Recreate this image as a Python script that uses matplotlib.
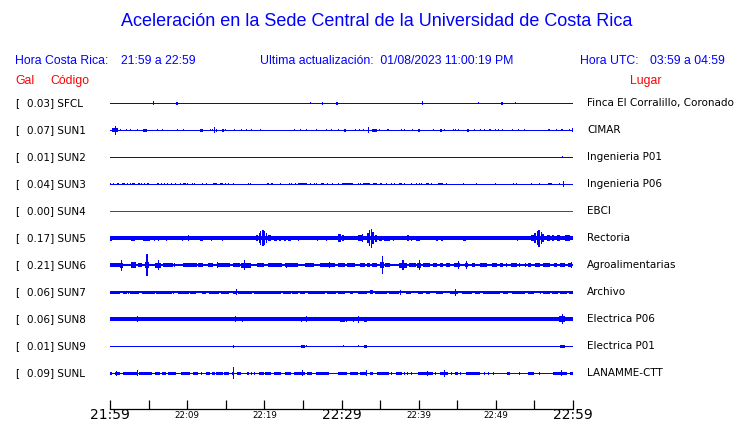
import matplotlib
matplotlib.use('Agg')
import matplotlib.pyplot as plt

# station data, top to bottom
codes = ['SFCL', 'SUN1', 'SUN2', 'SUN3', 'SUN4', 'SUN5', 'SUN6', 'SUN7', 'SUN8', 'SUN9', 'SUNL']
gal = [0.03, 0.07, 0.01, 0.04, 0.00, 0.17, 0.21, 0.06, 0.06, 0.01, 0.09]
places = ['Finca El Corralillo, Coronado', 'CIMAR', 'Ingenieria P01', 'Ingenieria P06', 'EBCI',
          'Rectoria', 'Agroalimentarias', 'Archivo', 'Electrica P06', 'Electrica P01', 'LANAMME-CTT']
base_px = [1, 1, 1, 1, 1, 3.5, 2, 1.5, 4, 1, 1]   # trace thickness (pixels)

tick_min = [0, 5, 10, 15, 20, 25, 30, 35, 40, 45, 50, 55, 60]
tick_txt = ['21:59', '', '22:09', '', '22:19', '', '22:29', '', '22:39', '', '22:49', '', '22:59']

# bursts on each trace: (start minute, end minute, half height in pixels)
ev_sfcl = [(5.6, 5.6, 2), (8.6, 8.8, 1.5), (26.0, 26.0, 1), (27.6, 27.6, 1.5), (29.3, 29.5, 1.5),
           (40.5, 40.5, 2), (47.7, 47.7, 1), (50.7, 50.9, 1.5), (52.6, 52.6, 1)]
ev_sun1 = [(0.3, 1.0, 2), (0.65, 0.65, 4.5), (1.4, 1.4, 1.3), (2.2, 2.2, 1.3), (2.7, 2.7, 1.3), (3.5, 3.5, 1.3),
           (4.3, 4.8, 1.5), (6.1, 6.1, 1.3), (6.8, 6.8, 1.3), (8.8, 8.8, 1.3), (9.5, 9.5, 1), (11.7, 12.1, 1.5),
           (13.0, 13.0, 1.3), (13.3, 13.3, 1.3), (13.5, 13.5, 3), (13.8, 13.8, 1.5), (14.5, 14.8, 1.5),
           (15.0, 15.0, 1.3), (16.1, 16.1, 1.3), (17.1, 17.1, 1), (17.7, 17.7, 1.3), (18.4, 18.4, 1.3),
           (19.5, 19.5, 1.3), (23.8, 24.0, 1.3), (24.7, 24.7, 1.3), (25.5, 25.5, 1.3), (26.8, 26.8, 1.3),
           (28.1, 28.1, 1.3), (28.7, 28.7, 1.3), (29.6, 29.6, 1.3), (30.3, 30.6, 1.5), (31.8, 31.8, 1.3),
           (32.3, 32.3, 1), (32.8, 32.8, 1.3), (33.5, 33.5, 3), (34.0, 34.6, 1.5), (34.9, 34.9, 1.3),
           (35.9, 36.2, 1.3), (37.8, 37.8, 1.3), (38.2, 38.2, 1.3), (39.2, 39.2, 1.3), (39.9, 40.2, 1.5),
           (41.9, 41.9, 1.3), (42.8, 43.0, 1.5), (43.3, 43.3, 1.3), (44.5, 44.5, 1.3), (44.8, 44.8, 1.3),
           (45.2, 45.2, 1.3), (46.2, 46.5, 1.5), (47.2, 47.2, 1.3), (48.0, 48.0, 1.3), (48.5, 48.5, 1.3),
           (49.1, 49.4, 1.3), (50.0, 50.0, 1.3), (50.4, 50.4, 1.3), (50.8, 50.8, 1.3), (52.2, 52.2, 1),
           (52.9, 52.9, 1), (53.7, 53.7, 1.3), (56.8, 57.0, 1.3), (57.9, 57.9, 1.3), (58.4, 58.7, 1.3),
           (59.5, 59.5, 1.3), (59.9, 59.9, 2)]
ev_sun2 = [(58.7, 58.7, 1)]
ev_sun3 = [(0.1, 0.1, 1), (0.4, 0.4, 1.2), (0.9, 1.2, 1.2), (1.5, 1.9, 1.2), (2.3, 2.3, 1), (2.6, 2.6, 1.2),
           (2.9, 3.2, 1.2), (3.6, 3.9, 1.2), (4.1, 4.1, 1.2), (4.5, 4.5, 1.2), (4.8, 5.1, 1.2), (6.1, 6.4, 1.2),
           (6.7, 6.7, 1.2), (7.0, 7.0, 1), (7.5, 7.5, 1.2), (8.0, 8.0, 1), (8.5, 8.5, 1.2), (9.1, 9.1, 1),
           (9.5, 9.8, 1.2), (10.1, 10.1, 1), (10.7, 10.7, 1.2), (11.0, 11.0, 1), (12.0, 12.0, 1), (12.5, 12.5, 1),
           (13.4, 13.9, 1.2), (14.2, 14.6, 1.2), (15.0, 15.0, 1), (15.4, 15.4, 1), (16.0, 16.0, 1.2),
           (17.9, 17.9, 1), (18.2, 18.2, 1.2), (20.3, 20.6, 1.2), (20.9, 21.1, 1.2), (22.1, 22.1, 1),
           (23.3, 23.3, 1), (23.5, 23.5, 1), (24.1, 24.1, 1.2), (24.4, 25.5, 1.3), (26.0, 26.0, 1.2),
           (26.5, 26.5, 1), (26.8, 26.8, 1.2), (27.4, 27.7, 1.2), (28.2, 28.2, 1), (28.8, 28.8, 1.2),
           (29.6, 29.6, 1), (30.0, 31.5, 1.3), (32.2, 32.2, 1.2), (32.5, 32.5, 1.2), (32.8, 33.7, 1.3),
           (34.1, 34.6, 1.3), (35.0, 35.3, 1.3), (35.8, 35.8, 1.2), (36.5, 36.5, 1), (36.9, 36.9, 1.2),
           (37.5, 37.9, 1.3), (38.2, 38.2, 1), (39.1, 39.1, 1.2), (39.7, 39.7, 1.2), (40.1, 40.1, 1),
           (40.4, 40.4, 1), (41.0, 41.4, 1.3), (41.7, 41.7, 1), (42.5, 43.2, 1.3), (43.6, 43.6, 1.2),
           (45.8, 45.8, 1), (47.5, 47.5, 1.2), (49.9, 49.9, 1), (52.3, 52.3, 1.2), (52.7, 52.7, 1.2),
           (54.6, 54.6, 1.2), (55.7, 55.7, 1), (56.8, 57.3, 1.3), (58.3, 58.3, 1.2), (58.8, 58.8, 3)]
ev_sun4 = []
ev_sun5 = [(0.0, 0.3, 2.5), (2.7, 3.2, 2.5), (4.3, 5.2, 2.5), (5.8, 5.8, 2.5), (6.3, 6.3, 2.5), (7.3, 7.3, 2.5),
           (9.3, 9.5, 2.5), (10.2, 10.2, 3), (11.6, 12.1, 2.5), (13.1, 13.1, 2.5), (14.6, 14.6, 2.5),
           (15.4, 15.4, 2.3), (18.9, 19.2, 3), (19.3, 19.4, 5), (19.5, 19.6, 7), (19.7, 19.9, 8), (20.0, 20.1, 7),
           (20.2, 20.4, 5), (20.5, 20.8, 3), (21.2, 21.6, 2.5), (21.9, 22.2, 2.5), (22.5, 22.8, 2.5),
           (23.1, 23.5, 2.5), (24.4, 24.4, 2.5), (25.3, 25.3, 2.3), (26.9, 26.9, 2.5), (28.1, 28.1, 2.5),
           (28.8, 28.8, 2.3), (29.6, 29.9, 4), (30.0, 30.3, 3), (32.2, 32.8, 3), (32.7, 32.7, 4), (33.3, 33.5, 5),
           (33.6, 33.7, 8), (33.8, 33.9, 9.5), (34.0, 34.2, 6), (34.3, 34.6, 3.5), (34.8, 35.2, 2.5),
           (35.5, 36.3, 2.5), (36.7, 36.7, 2.5), (37.8, 37.8, 2.3), (38.5, 38.7, 3), (39.1, 39.1, 2.5),
           (39.7, 40.2, 2.5), (42.3, 42.5, 2.5), (42.9, 43.2, 2.5), (45.8, 46.1, 2.5), (46.4, 46.4, 2.3),
           (47.5, 47.5, 2.3), (52.8, 52.8, 2.5), (53.8, 53.8, 2.3), (54.6, 54.9, 3), (55.0, 55.2, 5),
           (55.3, 55.4, 7), (55.5, 55.7, 8.5), (55.8, 55.9, 6), (56.0, 56.3, 4), (56.6, 57.0, 3),
           (57.3, 57.6, 3), (57.9, 58.3, 3), (59.0, 59.6, 3)]
ev_sun6 = [(0.0, 1.3, 1.7), (1.3, 1.7, 2.5), (1.4, 1.6, 5.5), (2.7, 3.4, 3), (3.6, 4.1, 1.7), (4.6, 5.1, 3),
           (4.7, 4.9, 11), (5.8, 6.6, 2.5), (6.3, 6.3, 5), (6.9, 8.2, 1.7), (8.4, 8.4, 1.7), (9.4, 11.3, 1.7),
           (11.4, 12.1, 1.7), (12.7, 13.4, 1.7), (13.9, 13.9, 3), (14.0, 15.6, 1.7), (16.0, 16.8, 1.7),
           (17.0, 18.3, 2.5), (17.4, 17.4, 5), (19.0, 19.9, 1.7), (20.5, 22.3, 1.7), (22.7, 24.4, 1.7),
           (22.9, 22.9, 2.5), (25.3, 26.4, 1.7), (27.2, 29.2, 1.7), (28.5, 28.5, 3), (29.6, 30.4, 1.7),
           (30.7, 31.7, 1.7), (32.4, 33.0, 1.7), (33.3, 33.7, 1.7), (33.9, 34.6, 1.7), (35.0, 35.5, 3),
           (35.2, 35.4, 9), (35.6, 36.3, 1.7), (37.4, 38.5, 2.5), (37.9, 38.1, 5), (38.7, 39.6, 1.7),
           (39.8, 40.3, 2.5), (40.1, 40.1, 5), (40.6, 41.5, 1.7), (41.9, 42.4, 1.7), (42.8, 43.2, 1.7),
           (43.6, 44.1, 1.7), (44.6, 45.4, 1.7), (45.1, 45.1, 4), (46.0, 46.4, 1.7), (46.2, 46.2, 4),
           (46.9, 47.3, 1.7), (47.9, 48.8, 1.7), (49.5, 50.1, 1.7), (50.5, 50.9, 1.7), (51.4, 51.4, 1.7),
           (52.0, 52.7, 1.7), (53.1, 53.1, 1.7), (53.8, 53.8, 1.7), (54.2, 54.6, 1.7), (55.1, 55.7, 1.7),
           (56.1, 57.0, 1.7), (57.5, 57.9, 1.7), (58.3, 58.9, 1.7), (59.4, 59.9, 1.7), (59.8, 59.8, 3)]
ev_sun7 = [(0.0, 1.3, 1.5), (1.7, 2.2, 1.5), (2.4, 2.4, 1.5), (2.6, 3.7, 1.5), (4.1, 5.8, 1.5), (6.0, 8.0, 1.5),
           (8.2, 8.2, 1.5), (8.8, 10.2, 1.5), (10.4, 11.1, 1.5), (11.9, 12.5, 1.5), (12.8, 14.1, 1.5),
           (14.4, 15.4, 1.5), (15.9, 16.3, 1.5), (16.4, 16.4, 3), (16.6, 18.4, 1.5), (18.6, 22.2, 1.5),
           (22.4, 23.5, 1.5), (23.6, 24.4, 1.5), (24.6, 25.3, 1.5), (25.6, 27.9, 1.5), (28.1, 29.3, 1.5),
           (29.6, 30.5, 1.5), (31.1, 31.5, 1.5), (32.2, 33.3, 1.5), (33.7, 34.1, 2), (34.3, 35.9, 1.5),
           (36.2, 37.4, 1.5), (37.6, 37.6, 2.5), (38.4, 39.0, 1.5), (39.9, 40.6, 1.5), (41.0, 41.5, 1.5),
           (42.3, 43.2, 1.5), (44.1, 45.1, 1.5), (44.8, 44.8, 3.5), (45.6, 46.9, 1.5), (47.3, 47.9, 1.5),
           (48.4, 50.5, 1.5), (50.9, 51.6, 1.5), (52.1, 53.8, 1.5), (54.2, 54.9, 1.5), (55.7, 55.9, 1.5),
           (56.1, 57.0, 1.5), (57.3, 58.1, 1.5), (58.3, 59.2, 1.5), (59.5, 60.0, 1.5)]
ev_sun8 = [(3.6, 3.6, 3), (16.2, 16.2, 2.8), (17.2, 17.2, 2.5), (24.8, 24.8, 2.5), (25.5, 25.5, 3),
           (29.8, 30.5, 2.5), (30.7, 30.7, 2.5), (31.5, 31.5, 2.5), (32.2, 32.2, 3.5), (32.9, 33.3, 2.5),
           (58.2, 59.0, 3), (58.6, 58.7, 5)]
ev_sun9 = [(16.0, 16.0, 1.5), (24.8, 25.3, 1.5), (25.5, 25.5, 1.2), (30.3, 30.3, 1), (32.2, 32.2, 1.3),
           (32.9, 33.3, 1.5), (58.3, 59.0, 1.5)]
ev_sunl = [(0.0, 0.3, 1.5), (0.6, 1.3, 1.5), (0.8, 0.8, 2.5), (1.7, 3.5, 1.5), (3.6, 3.6, 3), (3.7, 5.4, 1.5),
           (5.8, 6.5, 1.5), (6.7, 7.3, 1.5), (7.5, 8.6, 1.5), (9.2, 10.4, 1.5), (10.7, 11.4, 1.5),
           (11.8, 11.8, 1.5), (12.5, 13.0, 1.5), (13.2, 13.6, 1.5), (13.8, 14.6, 1.5), (14.8, 15.4, 1.5),
           (15.8, 16.1, 1.5), (16.0, 16.0, 6), (16.4, 17.0, 1.5), (17.7, 18.0, 1.5), (18.3, 18.3, 1.5),
           (18.7, 18.7, 1.5), (19.3, 19.9, 1.5), (20.1, 20.9, 1.5), (21.3, 22.2, 1.5), (22.7, 23.5, 1.5),
           (23.8, 24.3, 1.5), (24.4, 25.3, 1.5), (24.9, 24.9, 3), (25.5, 26.2, 1.5), (26.7, 28.4, 1.5),
           (29.6, 30.7, 1.5), (31.1, 32.2, 1.5), (32.4, 33.3, 1.5), (33.2, 33.2, 3), (33.7, 34.1, 1.5),
           (34.6, 36.1, 1.5), (36.5, 36.5, 1.5), (37.0, 37.8, 1.5), (38.2, 38.2, 1.5), (38.6, 38.6, 1.5),
           (39.1, 39.1, 1.5), (39.9, 41.8, 1.5), (41.2, 41.2, 2.5), (42.1, 42.3, 1.5), (42.8, 43.8, 1.5),
           (43.4, 43.4, 3.5), (44.3, 44.3, 1.5), (44.7, 45.1, 1.5), (45.4, 45.4, 1.5), (46.1, 47.9, 1.5),
           (48.5, 48.5, 1.5), (49.0, 49.0, 1.5), (49.7, 49.7, 1.5), (51.4, 51.8, 1.5), (53.1, 53.1, 1.5),
           (54.2, 54.9, 1.5), (55.7, 55.7, 1.5), (57.4, 59.2, 1.5), (58.5, 58.5, 3), (59.6, 60.0, 1.5)]

events = [ev_sfcl, ev_sun1, ev_sun2, ev_sun3, ev_sun4, ev_sun5, ev_sun6, ev_sun7, ev_sun8, ev_sun9, ev_sunl]

BLUE = '#0000ff'
RED = '#ff0000'
W, H = 740, 423

fig = plt.figure(figsize=(W / 100, H / 100), dpi=100)


def ftext(x, y, s, **kw):
    # place text using pixel coordinates from the top-left corner
    fig.text(x / W, 1 - y / H, s, va='center', **kw)


# axes covers trace area, y measured in pixels from the top
ax = fig.add_axes([110 / W, (H - 409) / H, 463 / W, (409 - 90) / H])
ax.set_xlim(0, 60)
ax.set_ylim(409, 90)
for s in ['top', 'left', 'right']:
    ax.spines[s].set_visible(False)
ax.spines['bottom'].set_linewidth(0.9)
ax.set_yticks([])
ax.set_xticks(tick_min)
ax.set_xticklabels(tick_txt)
ax.tick_params(axis='x', direction='in', length=6.5, width=0.9, pad=-1)
for lab in ax.get_xticklabels():
    if lab.get_text() in ('21:59', '22:29', '22:59'):
        lab.set_fontsize(10)
    else:
        lab.set_fontsize(6.3)
        lab.set_y(-0.012)

px_min = 60 / 463.0   # one pixel in minutes
row0, gap = 103, 27
for i in range(len(codes)):
    y = row0 + gap * i
    col = RED if codes[i] == 'SUN4' else BLUE
    ax.hlines(y, 0, 60, colors=col, lw=base_px[i] * 0.72, antialiased=False)
    ev = events[i]
    if ev:
        xs = [a if b > a else a - px_min / 2 for a, b, h in ev]
        ws = [max(b - a, px_min) for a, b, h in ev]
        bots = [y - h for a, b, h in ev]
        hts = [2 * h for a, b, h in ev]
        ax.bar(xs, hts, width=ws, bottom=bots, align='edge', color=col, linewidth=0, antialiased=False)

    ftext(15, y, '[', fontsize=7.5, color='black')
    ftext(27, y, '%.2f] %s' % (gal[i], codes[i]), fontsize=7.5, color='black')
    ftext(587, y, places[i], fontsize=7.5, color='black')

# headers
hf = 'Liberation Sans'
ftext(377, 22, 'Aceleración en la Sede Central de la Universidad de Costa Rica', fontsize=13,
      color=BLUE, family=hf, ha='center')
ftext(15, 61, 'Hora Costa Rica:', fontsize=8.8, color=BLUE, family=hf)
ftext(121, 61, '21:59 a 22:59', fontsize=8.8, color=BLUE, family=hf)
ftext(260, 61, 'Ultima actualización:  01/08/2023 11:00:19 PM', fontsize=8.8, color=BLUE, family=hf)
ftext(580, 61, 'Hora UTC:', fontsize=8.8, color=BLUE, family=hf)
ftext(650, 61, '03:59 a 04:59', fontsize=8.8, color=BLUE, family=hf)
ftext(15, 81, 'Gal', fontsize=8.8, color=RED, family=hf)
ftext(50, 81, 'Código', fontsize=8.8, color=RED, family=hf)
ftext(630, 81, 'Lugar', fontsize=8.8, color=RED, family=hf)

fig.savefig('out.png', dpi=100)
